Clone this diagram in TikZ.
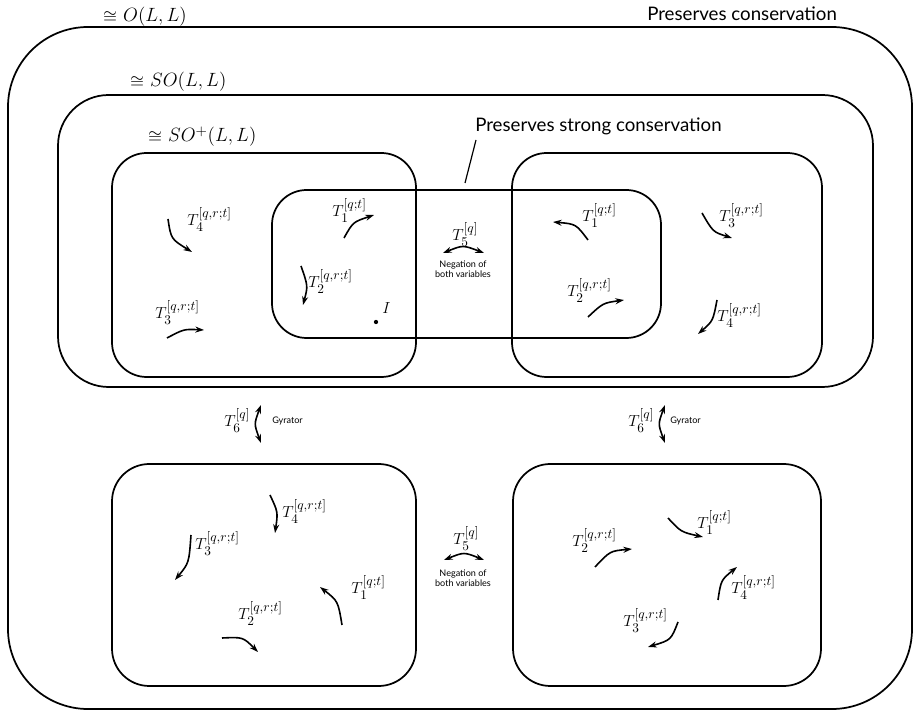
\documentclass[tikz,border=0pt]{standalone}
\usepackage{fontspec}
\setsansfont{Lato}
\newfontfamily\lmmath{latinmodern-math.otf}
\usetikzlibrary{arrows.meta}
\makeatletter
\renewcommand\defaultscriptratio{.8}
\makeatother
\newcommand{\iso}{{\lmmath ≅}\ }
\begin{document}
\begin{tikzpicture}[x=0.75pt,y=-0.75pt,
  box/.style={line width=1.3pt, rounded corners=#1},
  arr/.style={line width=1.2pt, -{Stealth[length=6.5pt,width=4.5pt]}},
  darr/.style={line width=1.2pt, {Stealth[length=6.5pt,width=4.5pt]}-{Stealth[length=6.5pt,width=4.5pt]}},
  tl/.style={anchor=base west, inner sep=0pt, font=\fontsize{12.8}{15}\selectfont},
  gl/.style={anchor=base west, inner sep=0pt, font=\fontsize{13.5}{16}\selectfont},
  sl/.style={anchor=base west, inner sep=0pt, font=\sffamily\fontsize{14}{16}\selectfont},
  tiny/.style={anchor=base, inner sep=0pt, font=\sffamily\fontsize{6.8}{7}\selectfont},
  gy/.style={anchor=base west, inner sep=0pt, font=\sffamily\fontsize{6.8}{7}\selectfont}]
\useasboundingbox (0,0) rectangle (918,712);

% boxes
\draw[box=60pt] (8,27) rectangle (912,709);
\draw[box=38pt] (58,95) rectangle (873,387);
\draw[box=26pt] (112,153) rectangle (416,377);
\draw[box=26pt] (512,153) rectangle (822,377);
\draw[box=26pt] (272,190) rectangle (661,338);
\draw[box=28pt] (112,464) rectangle (416,686);
\draw[box=28pt] (513,464) rectangle (821,686);

% group labels
\node[gl] (lO) at (103,22) {\iso$O(L,L)$};
\node[sl] (lPC) at (647,21) {Preserves conservation};
\node[gl] (lSO) at (130,87) {\iso$SO(L,L)$};
\node[gl] (lSOp) at (148,142) {\iso$SO^+(L,L)$};
\node[sl] (lPSC) at (475,132) {Preserves strong conservation};
\coordinate (lead1) at (476,140);
\coordinate (lead2) at (465,183);
\draw[line width=0.9pt] (lead1) -- (lead2);

% left SO+ box
\node[tl] (a4) at (187,226) {$T_4^{[q,r;t]}$};
\draw[arr] (168,219) .. controls (171,239) .. (192,252);
\node[tl] (a3) at (155,319) {$T_3^{[q,r;t]}$};
\draw[arr] (167,338) .. controls (184,329) .. (204,330);
\node[tl] (a1) at (332,217) {$T_1^{[q;t]}$};
\draw[arr] (344,238) .. controls (353,222) .. (374,215);
\node[tl] (a2) at (308,288) {$T_2^{[q,r;t]}$};
\draw[arr] (301,266) .. controls (308,286) .. (303,305);
\fill (376,322) circle (1.6pt);
\node[tl] (idI) at (382,314) {$I$};

% middle negation (top)
\node[tl] (t5a) at (452,241) {$T_5^{[q]}$};
\draw[darr] (443,253) .. controls (463,245) .. (484,253);
\node[tiny] (neg1) at (463,268) {Negation of};
\node[tiny] (neg2) at (463,278) {both variables};

% right box (top)
\node[tl] (b1) at (582,222) {$T_1^{[q;t]}$};
\draw[arr] (588,240) .. controls (576,224) .. (553,222);
\node[tl] (b2) at (567,297) {$T_2^{[q,r;t]}$};
\draw[arr] (588,317) .. controls (603,303) .. (624,300);
\node[tl] (b3) at (719,222) {$T_3^{[q,r;t]}$};
\draw[arr] (702,213) .. controls (713,232) .. (732,238);
\node[tl] (b4) at (717,322) {$T_4^{[q,r;t]}$};
\draw[arr] (717,300) .. controls (713,321) .. (698,334);

% gyrators
\node[tl] (g1) at (224,427) {$T_6^{[q]}$};
\draw[darr] (261,405) .. controls (254,424) .. (261,443);
\node[gy] (gy1) at (272,424) {Gyrator};
\node[tl] (g2) at (628,427) {$T_6^{[q]}$};
\draw[darr] (665,405) .. controls (658,424) .. (665,443);
\node[gy] (gy2) at (670,424) {Gyrator};

% bottom-left box
\node[tl] (c4) at (282,518) {$T_4^{[q,r;t]}$};
\draw[arr] (270,495) .. controls (278,512) .. (275,533);
\node[tl] (c3) at (195,550) {$T_3^{[q,r;t]}$};
\draw[arr] (191,535) .. controls (189,563) .. (175,580);
\node[tl] (c1) at (351,594) {$T_1^{[q;t]}$};
\draw[arr] (342,625) .. controls (338,601) .. (320,587);
\node[tl] (c2) at (238,620) {$T_2^{[q,r;t]}$};
\draw[arr] (222,638) .. controls (243,637) .. (258,652);

% middle negation (bottom)
\node[tl] (t5b) at (453,545) {$T_5^{[q]}$};
\draw[darr] (444,560) .. controls (464,552) .. (484,560);
\node[tiny] (neg3) at (463,577) {Negation of};
\node[tiny] (neg4) at (463,587) {both variables};

% bottom-right box
\node[tl] (d1) at (697,529) {$T_1^{[q;t]}$};
\draw[arr] (668,518) .. controls (681,532) .. (703,537);
\node[tl] (d2) at (572,547) {$T_2^{[q,r;t]}$};
\draw[arr] (595,567) .. controls (610,551) .. (632,549);
\node[tl] (d4) at (731,594) {$T_4^{[q,r;t]}$};
\draw[arr] (718,600) .. controls (721,580) .. (737,567);
\node[tl] (d3) at (623,627) {$T_3^{[q,r;t]}$};
\draw[arr] (678,622) .. controls (671,640) .. (648,647);
\end{tikzpicture}
\end{document}
